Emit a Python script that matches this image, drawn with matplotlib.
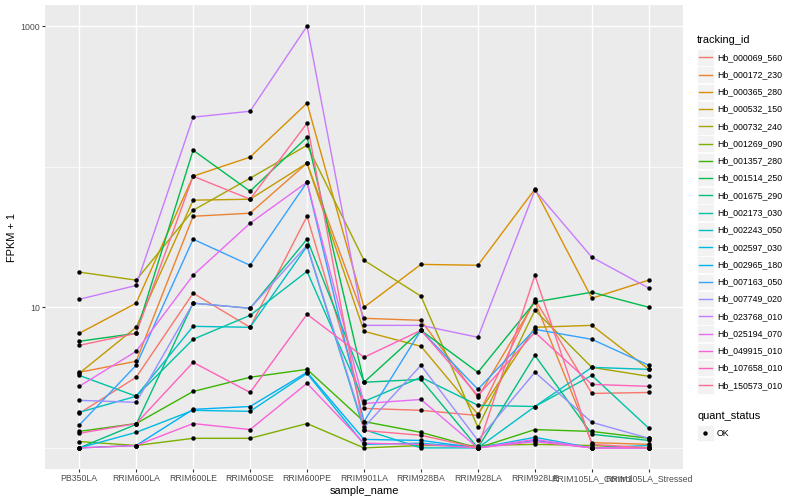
import numpy as np
import matplotlib
matplotlib.use("Agg")
import matplotlib.pyplot as plt
from matplotlib.patches import Rectangle
from matplotlib.lines import Line2D

plt.rcParams['font.family'] = ['Liberation Sans', 'DejaVu Sans']

samples = ["PB350LA", "RRIM600LA", "RRIM600LE", "RRIM600SE", "RRIM600PE",
           "RRIM901LA", "RRIM928BA", "RRIM928LA", "RRIM928LE",
           "RRIM105LA_Control", "RRIM105LA_Stressed"]

ids = ["Hb_000069_560", "Hb_000172_230", "Hb_000365_280", "Hb_000532_150",
       "Hb_000732_240", "Hb_001269_090", "Hb_001357_280", "Hb_001514_250",
       "Hb_001675_290", "Hb_002173_030", "Hb_002243_050", "Hb_002597_030",
       "Hb_002965_180", "Hb_007163_050", "Hb_007749_020", "Hb_023768_010",
       "Hb_025194_070", "Hb_049915_010", "Hb_107658_010", "Hb_150573_010"]

# FPKM + 1 per sample
hb_000069_560 = [1.76, 3.18, 12.6, 7.21, 44.4, 1.91, 1.85, 1.70, 11.4, 2.44, 2.48]
hb_000172_230 = [3.45, 4.13, 44.4, 46.7, 106, 8.35, 8.08, 2.29, 11.0, 1.09, 1.06]
hb_000365_280 = [6.53, 10.7, 85.6, 117, 283, 10.0, 20.2, 19.9, 69.2, 11.6, 15.6]
hb_000532_150 = [3.39, 7.21, 57.8, 58.7, 106, 6.75, 5.28, 1.73, 7.21, 7.44, 3.62]
hb_000732_240 = [17.8, 15.6, 49.0, 82.8, 142, 21.6, 12.0, 1.40, 9.52, 3.74, 3.23]
hb_001269_090 = [1.11, 1.04, 1.17, 1.17, 1.49, 1.0, 1.04, 1.04, 1.06, 1.04, 1.0]
hb_001357_280 = [1.31, 1.49, 2.52, 3.18, 3.62, 1.54, 1.29, 1.0, 1.35, 1.31, 1.17]
hb_001514_250 = [5.73, 6.53, 131, 66.9, 162, 2.93, 6.86, 3.45, 10.9, 12.8, 10.0]
hb_001675_290 = [1.0, 1.47, 10.7, 9.84, 30.5, 2.93, 3.07, 1.0, 4.55, 1.25, 1.13]
hb_002173_030 = [3.28, 2.33, 5.92, 8.77, 18.0, 2.14, 3.18, 2.01, 1.97, 3.28, 1.38]
hb_002243_050 = [1.79, 2.33, 7.32, 7.21, 27.2, 1.35, 1.0, 1.0, 1.97, 3.74, 3.62]
hb_002597_030 = [1.0, 1.29, 1.85, 1.82, 3.39, 1.06, 1.08, 1.0, 1.19, 1.0, 1.04]
hb_002965_180 = [1.0, 1.04, 1.88, 1.97, 3.45, 1.15, 1.13, 1.0, 1.13, 1.0, 1.0]
hb_007163_050 = [1.45, 3.87, 30.5, 19.9, 77.6, 1.54, 6.86, 2.61, 6.97, 5.92, 3.87]
hb_007749_020 = [2.18, 2.11, 10.7, 9.84, 27.6, 1.40, 3.87, 1.13, 3.45, 1.52, 1.17]
hb_023768_010 = [11.4, 14.3, 225, 248, 1000, 7.44, 7.44, 6.12, 68.0, 22.7, 13.7]
hb_025194_070 = [2.74, 4.86, 16.9, 39.6, 77.6, 2.07, 2.21, 1.0, 1.15, 1.0, 1.0]
hb_049915_010 = [1.0, 1.04, 1.49, 1.35, 2.88, 1.08, 1.06, 1.0, 1.11, 1.0, 1.0]
hb_107658_010 = [1.27, 1.49, 4.06, 2.48, 8.92, 4.41, 6.86, 2.36, 6.64, 2.83, 2.74]
hb_150573_010 = [5.36, 6.53, 85.6, 58.7, 204, 1.33, 1.23, 1.0, 16.9, 1.06, 1.0]

series = [hb_000069_560, hb_000172_230, hb_000365_280, hb_000532_150,
          hb_000732_240, hb_001269_090, hb_001357_280, hb_001514_250,
          hb_001675_290, hb_002173_030, hb_002243_050, hb_002597_030,
          hb_002965_180, hb_007163_050, hb_007749_020, hb_023768_010,
          hb_025194_070, hb_049915_010, hb_107658_010, hb_150573_010]

# ggplot default hue palette for 20 levels
colors = ["#F8766D", "#EA8331", "#D89000", "#C09B00", "#A3A500", "#7CAE00",
          "#39B600", "#00BB4E", "#00BF7D", "#00C1A3", "#00BFC4", "#00BAE0",
          "#00B0F6", "#35A2FF", "#9590FF", "#C77CFF", "#E76BF3", "#FA62DB",
          "#FF62BC", "#FF6C91"]

W, H = 800, 500
fig = plt.figure(figsize=(8, 5), dpi=100)
ax = fig.add_axes([45 / W, 1 - 469 / H, (683 - 45) / W, (469 - 5) / H])
ax.set_facecolor("#EBEBEB")
for s in ax.spines.values():
    s.set_visible(False)

x = np.arange(len(samples))
for vals, c in zip(series, colors):
    ax.plot(x, vals, color=c, lw=1.0, zorder=3)
for vals in series:
    ax.plot(x, vals, 'o', color='black', ms=3.2, mec='none', zorder=4)

ax.set_yscale('log')
lo = np.log10(min(min(v) for v in series))
hi = np.log10(max(max(v) for v in series))
pad = (hi - lo) * 0.05
ax.set_ylim(10 ** (lo - pad), 10 ** (hi + pad))
ax.set_xlim(-0.6, len(samples) - 0.4)

ax.set_yticks([10, 1000])
ax.set_yticklabels(["10", "1000"])
ax.set_yticks([1, 100], minor=True)
ax.yaxis.set_minor_formatter(matplotlib.ticker.NullFormatter())
ax.set_xticks(x)
ax.set_xticklabels(samples)
ax.tick_params(axis='both', which='major', length=2.0, width=0.8, color='#333333',
               labelcolor='#4D4D4D', labelsize=6.3, pad=1.6)
ax.tick_params(axis='y', which='minor', length=0)
ax.grid(True, which='major', color='white', lw=1.0, zorder=0)
ax.grid(True, which='minor', axis='y', color='white', lw=0.5, zorder=0)
ax.set_axisbelow(True)

ax.set_xlabel("sample_name", fontsize=7.9, labelpad=2)
ax.set_ylabel("FPKM + 1", fontsize=7.9, labelpad=2.5)


def fx(px):
    return px / W


def fy(py):
    return 1 - py / H


# tracking_id legend
fig.text(fx(697), fy(40), "tracking_id", fontsize=7.9, va='center', ha='left')
row = 17.27
for i, (name, c) in enumerate(zip(ids, colors)):
    yc = 57.3 + i * row
    fig.add_artist(Rectangle((fx(697), fy(yc + 8.3)), 16.6 / W, 16.6 / H,
                             transform=fig.transFigure, facecolor="#F2F2F2",
                             edgecolor='white', lw=0.5))
    fig.add_artist(Line2D([fx(699), fx(711.5)], [fy(yc), fy(yc)],
                          transform=fig.transFigure, color=c, lw=1.0))
    fig.text(fx(717), fy(yc), name, fontsize=6.3, va='center', ha='left')

# quant_status legend
fig.text(fx(697), fy(416), "quant_status", fontsize=7.9, va='center', ha='left')
fig.add_artist(Rectangle((fx(697), fy(433 + 8.3)), 16.6 / W, 16.6 / H,
                         transform=fig.transFigure, facecolor="#F2F2F2",
                         edgecolor='white', lw=0.5))
fig.add_artist(Line2D([fx(705.3)], [fy(433)], transform=fig.transFigure,
                      marker='o', color='black', ms=3.2, mec='none', lw=0))
fig.text(fx(717), fy(433), "OK", fontsize=6.3, va='center', ha='left')

fig.savefig("out.png", dpi=100)
